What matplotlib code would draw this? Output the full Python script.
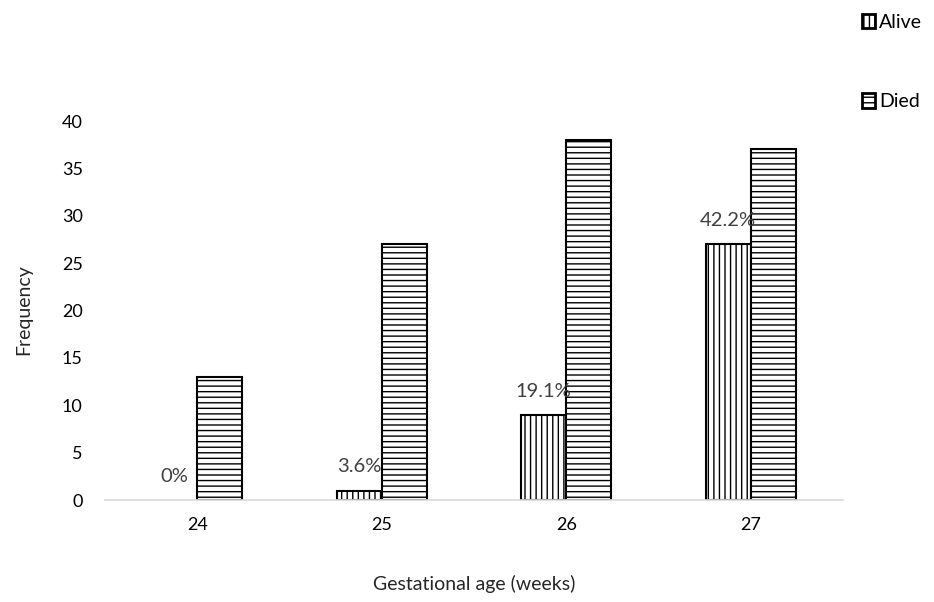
import matplotlib.pyplot as plt
import numpy as np

plt.rcParams['font.family'] = ['Lato', 'DejaVu Sans']
plt.rcParams['hatch.linewidth'] = 1.0

weeks = ['24', '25', '26', '27']
alive = [0, 1, 9, 27]
died = [13, 27, 38, 37]
pct = ['0%', '3.6%', '19.1%', '42.2%']

fig = plt.figure(figsize=(9.34, 6.02), dpi=100, facecolor='white')
ax = fig.add_axes([0.1124, 0.1694, 0.7902, 0.6296])

x = np.arange(len(weeks))
w = 0.245
b1 = ax.bar(x - w / 2, alive, w, facecolor='white', edgecolor='black', hatch='|||',
            lw=[0 if v == 0 else 1.5 for v in alive], label='Alive')
b2 = ax.bar(x + w / 2, died, w, facecolor='white', edgecolor='black', hatch='---', lw=1.5, label='Died')

# подписи процентов над столбиками "Alive"
for xi, v, t in zip(x, alive, pct):
    ax.annotate(t, (xi - w / 2, v), xytext=(0, 17), textcoords='offset points',
                ha='center', va='center', fontsize=14.5, color='#404040')

ax.set_xlim(-0.5, 3.5)
ax.set_ylim(0, 40)
ax.set_yticks(range(0, 41, 5))
ax.set_xticks(x)
ax.set_xticklabels(weeks)
ax.tick_params(length=0, labelsize=13, colors='black', pad=12)
ax.tick_params(axis='y', pad=16)
for s in ['top', 'right', 'left']:
    ax.spines[s].set_visible(False)
ax.spines['bottom'].set_color('#d9d9d9')
ax.spines['bottom'].set_linewidth(1.2)

fig.text(0.508, 0.015, 'Gestational age (weeks)', ha='center', va='bottom', fontsize=14, color='#262626')
fig.text(0.025, 0.485, 'Frequency', ha='center', va='center', rotation=90, fontsize=14, color='#262626')

leg = fig.legend(handles=[b1, b2], loc='upper right', bbox_to_anchor=(1.002, 1.0), frameon=False,
                 fontsize=14, handlelength=0.7, handleheight=0.8, handletextpad=0.2,
                 labelspacing=3.2, borderaxespad=0.3)
for p in leg.get_patches():
    p.set_linewidth(2.0)

fig.savefig('out.png', dpi=100)
